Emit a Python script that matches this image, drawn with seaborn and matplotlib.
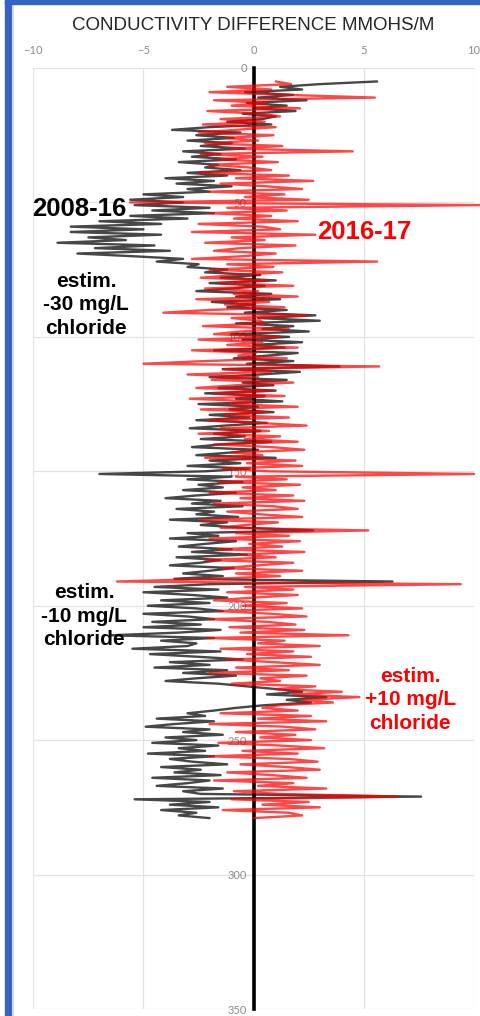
import numpy as np
import pandas as pd
import seaborn as sns
import matplotlib.pyplot as plt
from matplotlib.patches import Rectangle
from matplotlib.lines import Line2D

sns.set_style('white')
plt.rcParams['font.family'] = ['Liberation Sans', 'DejaVu Sans']

# depth below top of casing, 1 m steps
depth = np.arange(5, 280)

# conductivity difference 2008-16 (mmohs/m)
cond_2008_16 = [
    5.6, 3.0, 1.2, 2.2, -0.4,
    1.8, 0.2, 2.4, -0.3, 1.5, 0.1, 1.9, -0.5, 1.0, 0.4,
    -1.2, 0.8, -2.0, -3.7, -0.6, -2.6, -0.9, -3.0, -1.0, -2.4,
    -0.4, -3.2, -1.5, -2.8, -0.8, -3.4, -1.6, -2.2, -0.6, -3.0,
    -1.2, -4.0, -1.8, -3.5, -1.0, -3.0, -2.0, -5.0, -3.2, -5.6,
    -3.2, -5.4, -2.0, -4.6, -1.8, -5.6, -3.0, -7.0, -4.2, -8.3,
    -5.0, -8.3, -4.2, -7.5, -5.8, -8.9, -4.5, -7.2, -3.8, -8.0,
    -5.5, -3.2, -4.4, -2.5, -3.0, -1.2, -2.2, 0.3, -1.5, 1.0,
    -2.0, 0.5, -1.0, -2.6, 0.8, -0.8, 1.2, -1.9, 0.0, -1.2,
    1.5, -0.4, 2.8, 0.2, 3.0, -0.8, 1.8, 0.4, 2.5, -1.0,
    1.6, -0.5, 2.2, 0.0, 1.4, -1.8, 2.0, 0.6, -0.9, 1.8,
    -0.3, 3.9, -1.4, 2.1, 0.3, -2.0, 1.5, -0.5, 0.9, -1.6,
    1.0, -2.2, 0.5, -0.8, 1.3, -2.5, 0.2, -1.1, 0.9, -2.0,
    -0.2, -2.6, 0.6, -1.3, -2.9, 0.3, -1.8, -0.4, -2.4, 0.8,
    -1.5, -2.8, 0.2, -1.0, -2.6, 1.0, -2.0, -0.6, -3.0, -0.2,
    -2.2, -7.0, -1.0, -3.0, -0.5, -2.5, -1.4, -3.2, -0.8, -2.6,
    -4.0, -1.5, -2.8, -0.5, -3.5, -1.8, -2.6, -0.7, -3.8, -1.2,
    -2.4, -0.4, 2.7, -3.0, -1.6, -3.8, -0.8, -2.2, -3.4, -1.0,
    -2.8, -0.3, -3.5, -1.5, -2.4, -3.8, -0.9, -2.0, -3.2, -1.4,
    -3.6, 6.3, -2.0, -4.5, -1.6, -5.0, -2.8, -1.2, -4.2, -2.0,
    -4.8, -2.6, -1.4, -5.0, -3.0, -1.8, -4.6, -2.4, -5.0, -1.5,
    -3.4, -6.5, -1.8, -4.2, -2.6, -3.0, -5.5, -1.5, -4.7, -2.5,
    -0.5, -3.8, -2.0, -4.5, -1.2, -3.2, -0.8, -2.6, -4.0, -1.6,
    -0.3, 1.0, 2.2, 0.6, 3.3, 1.5, 2.6, 0.5, -0.8, -1.8,
    -3.0, -2.2, -4.4, -1.8, -3.6, -4.9, -2.0, -3.2, -1.4, -4.0,
    -2.6, -4.6, -1.6, -3.4, -2.2, -4.8, -1.8, -3.8, -2.8, -1.2,
    -4.2, -2.4, -3.6, -1.5, -4.6, -2.0, -3.0, -4.4, -1.4, -3.2,
    -2.4, 7.6, -5.4, -2.0, -3.8, -1.6, -4.2, -2.6, -3.4, -2.0,
]

# conductivity difference 2016-17 (mmohs/m)
cond_2016_17 = [
    1.0, 1.7, -1.2, 0.8, -2.0,
    1.5, 5.5, -1.8, 0.6, -1.0, 2.1, -2.1, 0.3, 1.2, -1.5,
    0.5, -2.3, 1.0, -0.8, -2.5, 0.9, -1.2, 0.2, -2.2, 1.3,
    -1.0, 4.5, -2.4, 0.4, -1.6, 1.1, -2.0, -0.2, 0.8, -2.5,
    1.6, -0.8, 2.7, -1.5, 0.6, 2.2, -2.0, 1.4, -0.4, 2.5,
    -5.6, 10.3, -1.2, 1.5, -2.0, 0.8, -0.9, 2.0, -2.5, 0.4,
    1.2, -2.8, 2.8, -1.0, 0.5, -2.2, 1.9, -0.6, -1.8, 1.0,
    -0.5, -2.8, 5.6, -1.2, 0.9, -2.0, 1.3, -0.8, -2.4, 0.6,
    -1.5, 1.8, -2.2, 0.2, -0.9, 2.0, -2.6, 0.7, -1.3, 1.4,
    -2.0, -4.1, 2.4, -1.0, 0.3, 0.5, -2.3, 1.6, -0.6, -1.8,
    1.2, -2.5, 0.4, -1.2, 2.0, -2.8, 0.1, -0.7, 1.5, -2.2,
    -5.0, 5.7, -1.4, 0.8, -3.0, 0.2, -1.9, 1.8, -0.8, -2.6,
    0.9, -1.7, 1.4, -2.9, 0.0, -1.0, 2.0, -2.4, 0.5, -1.3,
    1.6, -2.1, 0.2, 2.4, -1.5, 0.7, -2.5, 1.2, -0.4, 2.0,
    -1.8, 0.8, 2.3, -1.0, 0.4, -2.2, 1.9, -0.3, 2.2, -1.4,
    0.6, 10.0, -0.8, 1.5, -1.6, 2.1, -0.5, 1.0, -2.0, 1.8,
    -0.6, 2.3, -1.8, 0.9, 2.0, -1.2, 0.3, 2.2, -2.4, 1.1,
    -0.4, -1.5, 5.2, -0.8, 1.6, -2.0, 2.1, -0.2, 1.3, -1.6,
    2.3, -0.6, 1.0, -2.2, 1.8, 0.2, -1.4, 2.2, -0.8, 1.2,
    -1.9, -6.2, 9.4, -0.4, 1.8, -1.2, 2.0, 0.0, -1.8, 1.5,
    -0.5, 2.2, -1.6, 0.8, 2.4, -2.0, 0.6, 1.9, -1.1, 2.3,
    -0.6, 4.3, -2.1, 1.4, 0.2, 3.0, -1.5, 1.8, -0.3, 2.6,
    -1.2, 0.9, 3.0, -0.8, 1.6, -2.0, 2.4, 0.3, 1.2, -1.0,
    2.8, 1.0, 4.0, 1.8, 4.8, 2.2, 3.6, 1.2, 0.4, 2.0,
    -1.5, 2.6, 0.2, 3.3, -2.0, 1.4, 2.8, -0.8, 1.9, 0.3,
    2.6, -1.6, 1.2, 3.2, -0.5, 2.0, -2.0, 1.6, 2.9, -0.6,
    1.5, 3.0, -1.2, 0.8, 2.4, -1.8, 1.8, 0.2, 3.3, -0.9,
    1.2, 6.5, -1.0, 2.5, 0.4, 3.0, -1.4, 1.6, 2.2, 0.0,
]

x_ticks = [-10, -5, 0, 5, 10]
y_ticks = [0, 50, 100, 150, 200, 250, 300, 350]

df = pd.concat([
    pd.DataFrame({'depth': depth, 'diff': cond_2008_16, 'period': '2008-16'}),
    pd.DataFrame({'depth': depth, 'diff': cond_2016_17, 'period': '2016-17'}),
])

fig = plt.figure(figsize=(4.81, 10.16), dpi=100)
ax = fig.add_axes([33.3 / 481, 1 - 1009 / 1016, 440.7 / 481, 941 / 1016])

sns.lineplot(data=df, x='diff', y='depth', hue='period', orient='y',
             palette={'2008-16': 'black', '2016-17': 'red'},
             sort=False, estimator=None, legend=False, ax=ax,
             lw=1.7, alpha=0.72, zorder=3, clip_on=False)

ax.set_xlim(-10, 10)
ax.set_ylim(350, 0)
ax.set_xticks(x_ticks)
ax.set_yticks(y_ticks)
ax.set_xlabel('')
ax.set_ylabel('')
ax.grid(True, color='#e2e2e2', lw=0.9)
ax.set_axisbelow(True)

for s in ['top', 'right', 'bottom']:
    ax.spines[s].set_visible(False)
ax.spines['left'].set_position(('data', 0))
ax.spines['left'].set_linewidth(2.6)
ax.spines['left'].set_color('black')
ax.spines['left'].set_zorder(2)

ax.xaxis.tick_top()
ax.tick_params(axis='x', length=0, pad=9, labelsize=8, labelcolor='#8c8c8c')
ax.tick_params(axis='y', length=0, pad=5, labelsize=8, labelcolor='#8c8c8c')
for lab in ax.get_xticklabels() + ax.get_yticklabels():
    lab.set_family('Lato')

fig.text(253 / 481, 1 - 25 / 1016, 'CONDUCTIVITY DIFFERENCE MMOHS/M',
         ha='center', va='center', fontsize=13.5, color='#262626')

# annotations
bold = dict(fontweight='bold', ha='center', va='center')
ax.text(-7.9, 52.4, '2008-16', fontsize=18.5, color='black', **bold)
ax.text(5.0, 61.0, '2016-17', fontsize=18.5, color='red', **bold)
ax.text(-7.6, 88.0, 'estim.\n-30 mg/L\nchloride', fontsize=15, color='black',
        linespacing=1.3, **bold)
ax.text(-7.7, 204.0, 'estim.\n-10 mg/L\nchloride', fontsize=15, color='black',
        linespacing=1.3, **bold)
ax.text(7.1, 235.0, 'estim.\n+10 mg/L\nchloride', fontsize=15, color='red',
        linespacing=1.3, **bold)

# blue frame on the slide
blue = '#3563c5'
fig.patches.append(Rectangle((5 / 481, 0), 6 / 481, 1, transform=fig.transFigure,
                             color=blue, zorder=5))
fig.patches.append(Rectangle((5 / 481, 1 - 4 / 1016), 1, 4 / 1016,
                             transform=fig.transFigure, color=blue, zorder=5))
fig.add_artist(Line2D([12.5 / 481, 12.5 / 481], [0, 1 - 4 / 1016],
                      color='#d4d4d4', lw=0.8))

fig.savefig('out.png', dpi=100)
